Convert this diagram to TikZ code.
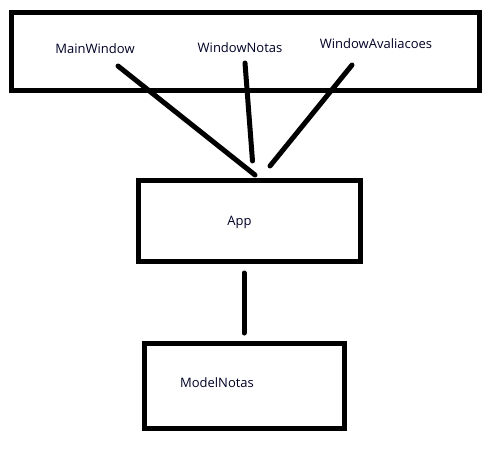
\documentclass[tikz,border=0pt]{standalone}
\usepackage{fontspec}
\setmainfont{Open Sans}
\begin{document}
\begin{tikzpicture}[x=1pt,y=-1pt,
  box/.style={draw=black,line width=5pt,inner sep=0pt},
  lbl/.style={inner sep=0pt,text=black!85!blue,font=\fontsize{13}{15}\selectfont},
  wire/.style={line width=5pt,line cap=round}]
\useasboundingbox (0,0) rectangle (495,448);
% boxes
\node[box,minimum width=468pt,minimum height=78pt] (top) at (245,51) {};
\node[box,minimum width=222.5pt,minimum height=81pt] (app) at (249.25,220.5) {};
\node[box,minimum width=200pt,minimum height=84.5pt] (model) at (244.5,385.75) {};
% labels
\node[lbl] (mw) at (95,49) {MainWindow};
\node[lbl] (wn) at (240,48) {WindowNotas};
\node[lbl] (wa) at (376,44) {WindowAvaliacoes};
\node[lbl] (applbl) at (239.5,222) {App};
\node[lbl] (ml) at (217,383) {ModelNotas};
% connector ends
\coordinate (mwA) at (118,66);
\coordinate (mwB) at (255,175);
\coordinate (wnA) at (245,63);
\coordinate (wnB) at (252.5,161);
\coordinate (waA) at (352,65);
\coordinate (waB) at (270,166);
\coordinate (amA) at (244,273);
\coordinate (amB) at (244,333);
\draw[wire] (mwA) -- (mwB);
\draw[wire] (wnA) -- (wnB);
\draw[wire] (waA) -- (waB);
\draw[wire] (amA) -- (amB);
\end{tikzpicture}
\end{document}
